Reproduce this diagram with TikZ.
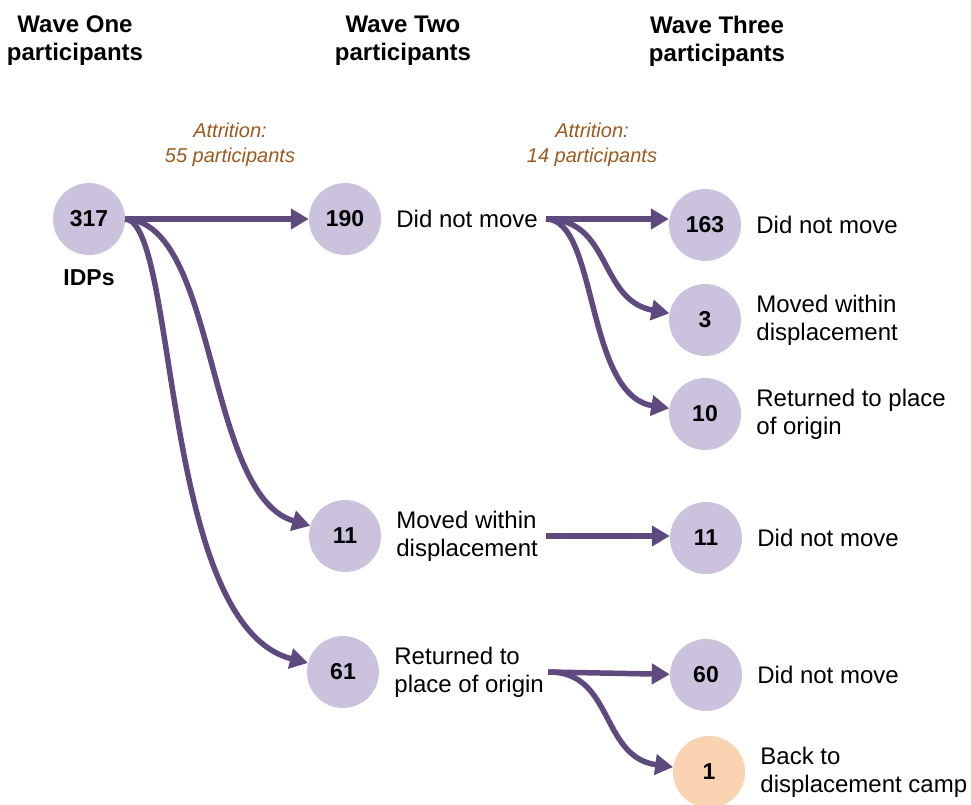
\documentclass[tikz,border=0pt]{standalone}
\usepackage{fontspec}
\setmainfont{Liberation Sans}
\usetikzlibrary{positioning}
\usetikzlibrary{arrows.meta}
\definecolor{bubble}{HTML}{CBC3DD}
\definecolor{campfill}{HTML}{FAD3B2}
\definecolor{flowline}{HTML}{5E4A7E}
\definecolor{lostcol}{HTML}{9C5A1E}

\begin{document}
\begin{tikzpicture}[x=1pt,y=-1pt,
    count/.style={circle,fill=bubble,minimum size=72pt,inner sep=0pt,font=\fontsize{23}{26}\selectfont\bfseries},
    outcome/.style={right=15pt of #1,inner sep=0pt,align=left,font=\fontsize{24}{28}\selectfont},
    header/.style={align=center,inner sep=0pt,font=\fontsize{24}{28}\selectfont\bfseries},
    attrition/.style={align=center,inner sep=0pt,text=lostcol,font=\fontsize{20}{25}\selectfont\itshape},
    flow/.style={draw=flowline,line width=5.5pt,-{Triangle[length=18pt,width=20pt]}}]
    \useasboundingbox (0,0) rectangle (971,805);

    % column headers
    \node[header] (h1) at (75,41) {Wave One\\participants};
    \node[header] (h2) at (403,41) {Wave Two\\participants};
    \node[header] (h3) at (717,41) {Wave Three\\participants};
    \node[attrition] (a1) at (230,145) {Attrition:\\55 participants};
    \node[attrition] (a2) at (592,145) {Attrition:\\14 participants};

    % wave one
    \node[count] (c317) at (89,219) {317};
    \node[inner sep=0pt,below=14pt of c317,font=\fontsize{23}{26}\selectfont\bfseries] (idp) {IDPs};

    % wave two
    \node[count] (c190) at (345,219) {190};
    \node[count] (c11a) at (345,536) {11};
    \node[count] (c61) at (343,672) {61};
    \node[outcome=c190] (t190) {Did not move};
    \node[outcome=c11a] (t11a) {Moved within\\displacement};
    \node[outcome=c61] (t61) {Returned to\\place of origin};

    % wave three
    \node[count] (c163) at (705,225) {163};
    \node[count] (c3) at (705,320) {3};
    \node[count] (c10) at (705,414) {10};
    \node[count] (c11b) at (706,538) {11};
    \node[count] (c60) at (706,675) {60};
    \node[count,fill=campfill] (c1) at (709,772) {1};
    \node[outcome=c163] (t163) {Did not move};
    \node[outcome=c3] (t3) {Moved within\\displacement};
    \node[outcome=c10] (t10) {Returned to place\\of origin};
    \node[outcome=c11b] (t11b) {Did not move};
    \node[outcome=c60] (t60) {Did not move};
    \node[outcome=c1] (t1) {Back to\\displacement camp};

    % flows wave one -> wave two
    \draw[flow] (c317.east) -- (c190);
    \draw[flow] (c317.east) .. controls (218,222) and (205,495) .. (c11a);
    \draw[flow] (c317.east) .. controls (178,222) and (160,625) .. (c61);

    % flows wave two -> wave three
    \coordinate (s190) at ([xshift=8pt]t190.east);
    \draw[flow] (s190) -- (s190 -| c163.west);
    \draw[flow] (s190) .. controls (612,219) and (598,300) .. (c3);
    \draw[flow] (s190) .. controls (598,219) and (585,395) .. (c10);
    \coordinate (s11) at ([xshift=8pt]t11a.east);
    \draw[flow] (s11) -- (s11 -| c11b.west);
    \coordinate (s61) at ([xshift=4pt]t61.east);
    \draw[flow] (s61) -- (c60);
    \draw[flow] (s61) .. controls (614,671) and (600,757) .. (c1);
\end{tikzpicture}
\end{document}
